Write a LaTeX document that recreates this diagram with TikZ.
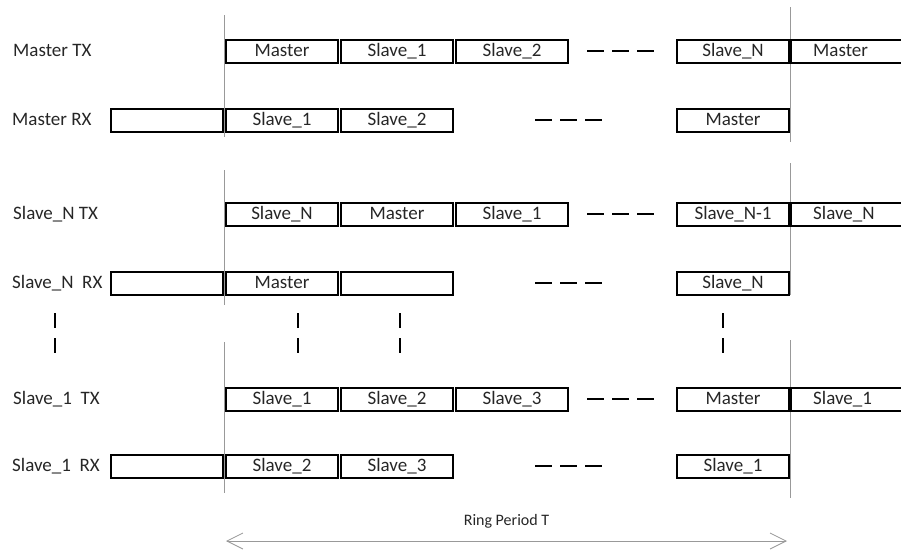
\documentclass[tikz,border=0pt]{standalone}
\usepackage{fontspec}
\setmainfont{Carlito}
\usetikzlibrary{arrows.meta}

\begin{document}
\begin{tikzpicture}[x=1pt,y=-1pt]
    \tikzset{
        slot/.style={draw, line width=2pt, anchor=west,
            minimum width=112pt, minimum height=23pt, inner sep=0pt,
            text height=13pt, text depth=3pt,
            text=black!85, font=\fontsize{19}{21}\selectfont},
        rowlabel/.style={anchor=west, inner sep=0pt,
            text height=13pt, text depth=3pt,
            text=black!85, font=\fontsize{19}{21}\selectfont},
        period/.style={gray!80, line width=0.8pt},
        gapdash/.style={line width=2pt, dash pattern=on 17pt off 8pt},
        moredash/.style={line width=2.2pt, dash pattern=on 15pt off 10pt}
    }
    \useasboundingbox (0,0) rectangle (901,552);

    % start and end of one ring period
    \draw[period] (224,15) -- (224,137);
    \draw[period] (224,170) -- (224,305);
    \draw[period] (224,342) -- (224,493);
    \draw[period] (790,7) -- (790,142);
    \draw[period] (790,163) -- (790,295);
    \draw[period] (790,340) -- (790,498);

    % TX rows
    \foreach \y/\lbl/\a/\b/\c/\n/\t/\id in {
        51/Master TX/Master/Slave\_1/Slave\_2/Slave\_N/Master/mtx,
        214/Slave\_N TX/Slave\_N/Master/Slave\_1/Slave\_N-1/Slave\_N/sntx,
        399/Slave\_1\ \ TX/Slave\_1/Slave\_2/Slave\_3/Master/Slave\_1/sotx} {
        \node[rowlabel] (\id L) at (13,\y) {\lbl};
        \node[slot] (\id1) at (225,\y) {\a};
        \node[slot] (\id2) at (340,\y) {\b};
        \node[slot] (\id3) at (455,\y) {\c};
        \draw[gapdash] (587,\y) -- (655,\y);
        \node[slot] (\id N) at (676,\y) {\n};
        \draw[line width=2pt] (905,\y-11.5) -| (791,\y+11.5) -- (905,\y+11.5);
        \node[rowlabel] (\id T) at (813,\y) {\t};
    }

    % RX rows
    \foreach \y/\lbl/\a/\b/\n/\id in {
        120/Master RX/Slave\_1/Slave\_2/Master/mrx,
        283/Slave\_N\ \ RX/Master//Slave\_N/snrx,
        466/Slave\_1\ \ RX/Slave\_2/Slave\_3/Slave\_1/sorx} {
        \node[rowlabel] (\id L) at (12,\y) {\lbl};
        \node[slot] (\id0) at (110,\y) {};
        \node[slot] (\id1) at (225,\y) {\a};
        \node[slot] (\id2) at (340,\y) {\b};
        \draw[gapdash] (535,\y) -- (603,\y);
        \node[slot] (\id N) at (676,\y) {\n};
    }

    % more slaves in between
    \foreach \x in {55,298,400,723} {
        \draw[moredash] (\x,313) -- (\x,353);
    }

    \coordinate (ringL) at (226,541);
    \coordinate (ringR) at (787,541);
    \draw[period, {Straight Barb[length=16pt,width=16pt]}-{Straight Barb[length=16pt,width=16pt]}]
        (ringL) -- node[above=9pt, text=black!85, font=\fontsize{16}{18}\selectfont] (ring) {Ring Period T} (ringR);
\end{tikzpicture}
\end{document}
